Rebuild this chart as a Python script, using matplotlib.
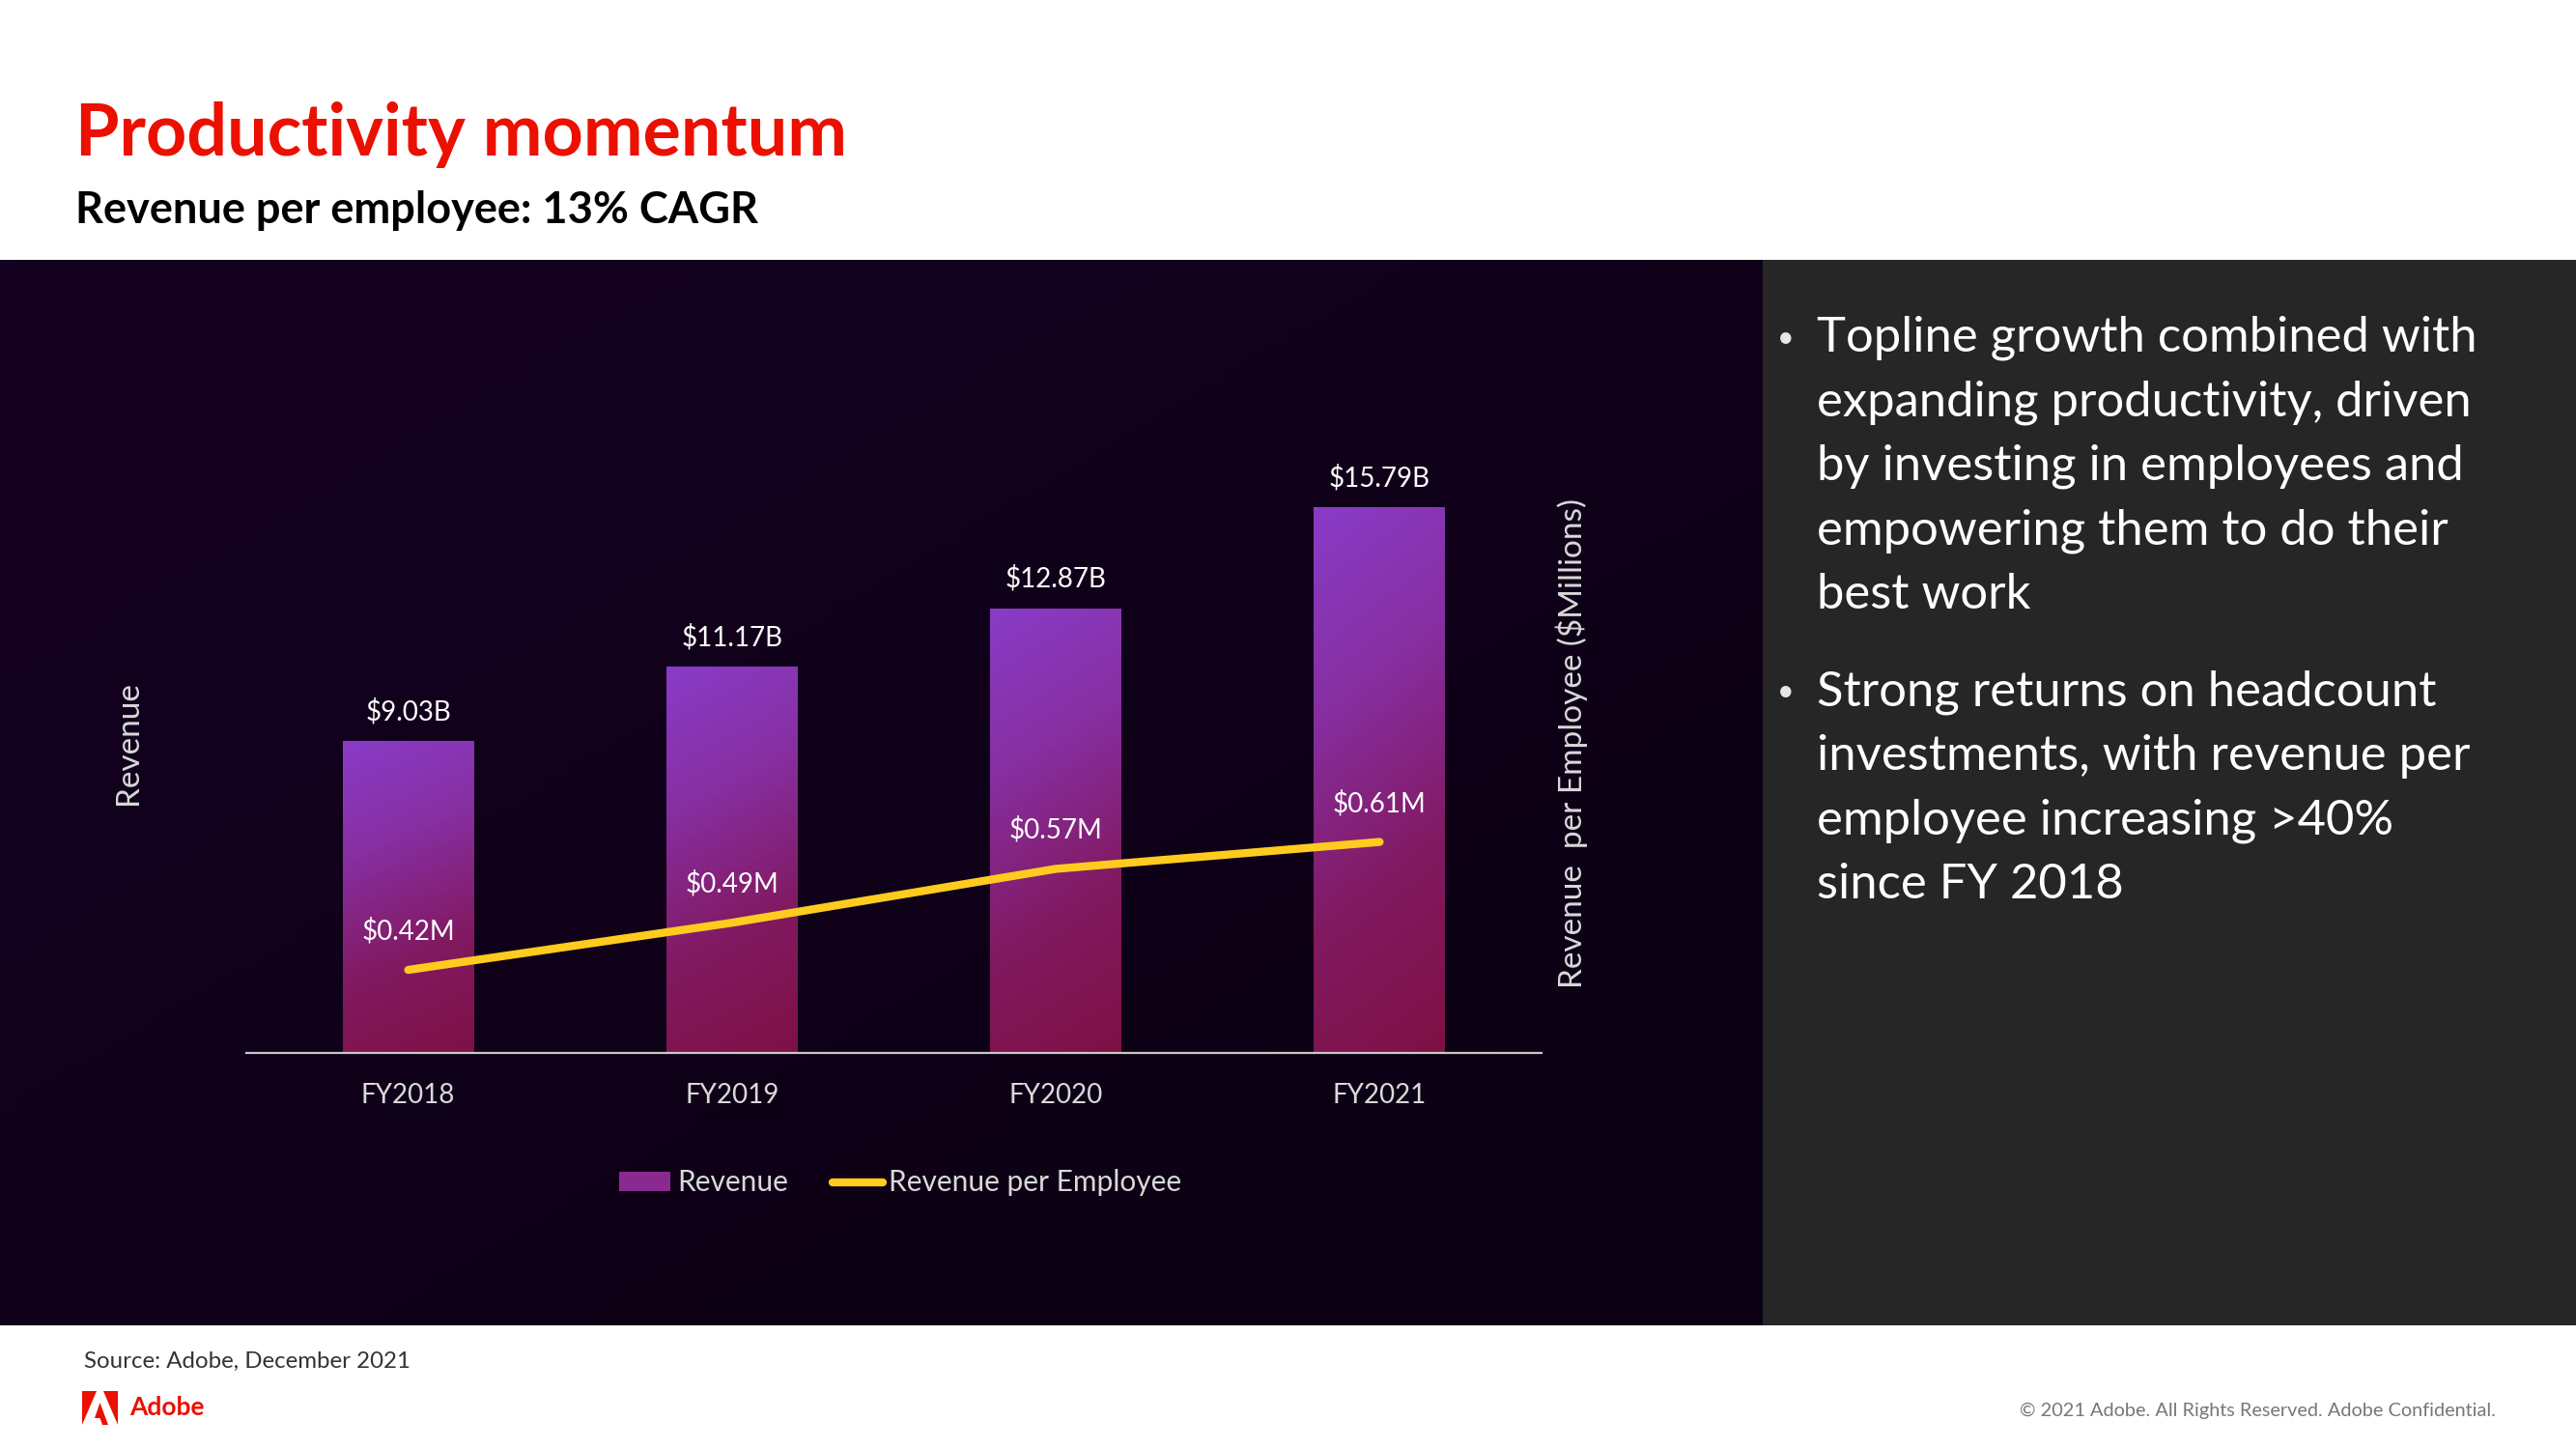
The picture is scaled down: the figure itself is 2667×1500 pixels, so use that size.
import numpy as np
import matplotlib
matplotlib.use('Agg')
import matplotlib.pyplot as plt
from matplotlib.patches import Rectangle, Polygon
from matplotlib.colors import LinearSegmentedColormap

plt.rcParams['font.family'] = ['Lato', 'DejaVu Sans']

# data
years = ['FY2018', 'FY2019', 'FY2020', 'FY2021']
revenue = [9.03, 11.17, 12.87, 15.79]            # $B
rev_per_emp = [0.42, 0.49, 0.57, 0.61]           # $M
rev_labels = ['$9.03B', '$11.17B', '$12.87B', '$15.79B']
rpe_labels = ['$0.42M', '$0.49M', '$0.57M', '$0.61M']
bullets = [
    ['Topline growth combined with', 'expanding productivity, driven',
     'by investing in employees and', 'empowering them to do their', 'best work'],
    ['Strong returns on headcount', 'investments, with revenue per',
     'employee increasing >40%', 'since FY 2018'],
]

W, H = 2667, 1500
fig = plt.figure(figsize=(W / 100, H / 100), dpi=100, facecolor='white')


def fx(px):
    return px / W


def fy(py):
    return 1 - py / H


# dark chart panel with a faint gradient
bg = fig.add_axes([0, fy(1372), fx(1825), fy(269) - fy(1372)])
bg.set_axis_off()
gx, gy = np.meshgrid(np.linspace(0, 1, 200), np.linspace(0, 1, 120))
bg_cmap = LinearSegmentedColormap.from_list('bg', ['#150121', '#0b0112'])
bg.imshow(0.5 * gx + 0.5 * gy, cmap=bg_cmap, aspect='auto', extent=[0, 1, 1, 0])
bg.set_xlim(0, 1)
bg.set_ylim(1, 0)

# right text panel
fig.patches.append(Rectangle((fx(1825), fy(1372)), 1 - fx(1825), fy(269) - fy(1372),
                             transform=fig.transFigure, facecolor='#262626',
                             edgecolor='none', zorder=0))

# main axes
ax = fig.add_axes([fx(255), fy(1090), fx(1596) - fx(255), fy(446) - fy(1090)])
ax.patch.set_alpha(0)
x = np.arange(len(years))
bars = ax.bar(x, revenue, width=0.405, color='none', zorder=2)

# purple (top-left) to crimson (bottom-right) fill
bar_cmap = LinearSegmentedColormap.from_list('bar', ['#8a3cc8', '#872ea0', '#821a62', '#7e1044'])
grad = np.linspace(0, 1, 256)[:, None] * 0.85 + np.linspace(0, 1, 20)[None, :] * 0.15
for b in bars:
    x0, y0 = b.get_x(), b.get_y()
    w, h = b.get_width(), b.get_height()
    im = ax.imshow(grad, cmap=bar_cmap, aspect='auto', origin='upper',
                   extent=[x0, x0 + w, y0, y0 + h], zorder=2)
    im.set_clip_path(b)
ax.set_xlim(-0.5, 3.5)
ax.set_ylim(0, 18)

for xi, v, lab in zip(x, revenue, rev_labels):
    ax.annotate(lab, (xi, v), xytext=(0, 22), textcoords='offset points',
                ha='center', va='center', color='white', fontsize=20)

for s in ['top', 'right', 'left']:
    ax.spines[s].set_visible(False)
ax.spines['bottom'].set_color('#c8c8c8')
ax.spines['bottom'].set_linewidth(1.6)
ax.set_yticks([])
ax.set_xticks(x)
ax.set_xticklabels(years, color='#d9d9d9', fontsize=20)
ax.tick_params(axis='x', length=0, pad=22)

ax2 = ax.twinx()
ax2.set_ylim(0.2967, 1.2204)
ax2.plot(x, rev_per_emp, color='#ffcb1f', lw=6, solid_capstyle='round', zorder=3)
for xi, v, lab in zip(x, rev_per_emp, rpe_labels):
    ax2.annotate(lab, (xi, v), xytext=(0, 29), textcoords='offset points',
                 ha='center', va='center', color='white', fontsize=20)
ax2.set_yticks([])
for s in ax2.spines.values():
    s.set_visible(False)

# axis titles
fig.text(fx(133), fy(769), 'Revenue', rotation=90, ha='center', va='center',
         color='#d9d9d9', fontsize=24)
fig.text(fx(1627), fy(769), 'Revenue  per Employee ($Millions)', rotation=90,
         ha='center', va='center', color='#d9d9d9', fontsize=24)

# legend
fig.patches.append(Rectangle((fx(641), fy(1233)), fx(53), fy(1213) - fy(1233),
                             transform=fig.transFigure, facecolor='#8a2a90',
                             edgecolor='none'))
fig.text(fx(701), fy(1224), 'Revenue', ha='left', va='center', color='#d9d9d9', fontsize=21.5)
fig.lines.append(plt.Line2D([fx(862), fx(914)], [fy(1224), fy(1224)],
                            transform=fig.transFigure, color='#ffcb1f', lw=6,
                            solid_capstyle='round'))
fig.text(fx(920), fy(1224), 'Revenue per Employee', ha='left', va='center',
         color='#d9d9d9', fontsize=21.5)

# titles
fig.text(fx(78), fy(140), 'Productivity momentum', ha='left', va='center',
         color='#eb1000', fontsize=53, fontweight='bold')
fig.text(fx(78), fy(218), 'Revenue per employee: 13% CAGR', ha='left', va='center',
         color='black', fontsize=32.5, fontweight='bold')

# bullets
ypos = 350
for para in bullets:
    fig.text(fx(1840), fy(ypos), '\u2022', ha='left', va='center', color='#e6e6e6', fontsize=22)
    for line in para:
        fig.text(fx(1881), fy(ypos), line, ha='left', va='center', color='white', fontsize=36.5)
        ypos += 66.5
    ypos += 34

# footer
fig.text(fx(87), fy(1409), 'Source: Adobe, December 2021', ha='left', va='center',
         color='#333333', fontsize=17.3)
fig.patches.append(Polygon([(fx(85), fy(1475)), (fx(85), fy(1440)), (fx(100), fy(1440)), (fx(85), fy(1475))],
                           closed=True, transform=fig.transFigure, facecolor='#eb1000', edgecolor='none'))
fig.patches.append(Polygon([(fx(107), fy(1440)), (fx(122), fy(1440)), (fx(122), fy(1475))],
                           closed=True, transform=fig.transFigure, facecolor='#eb1000', edgecolor='none'))
fig.patches.append(Polygon([(fx(103.5), fy(1452)), (fx(112), fy(1475)), (fx(106), fy(1475)),
                            (fx(103.5), fy(1468)), (fx(98), fy(1468))],
                           closed=True, transform=fig.transFigure, facecolor='#eb1000', edgecolor='none'))
fig.text(fx(134), fy(1457), 'Adobe', ha='left', va='center', color='#eb1000',
         fontsize=19, fontweight='bold')
fig.text(fx(2584), fy(1460), '\u00a9 2021 Adobe. All Rights Reserved. Adobe Confidential.',
         ha='right', va='center', color='#777777', fontsize=14.3)

fig.savefig('out.png', dpi=100, facecolor='white')
